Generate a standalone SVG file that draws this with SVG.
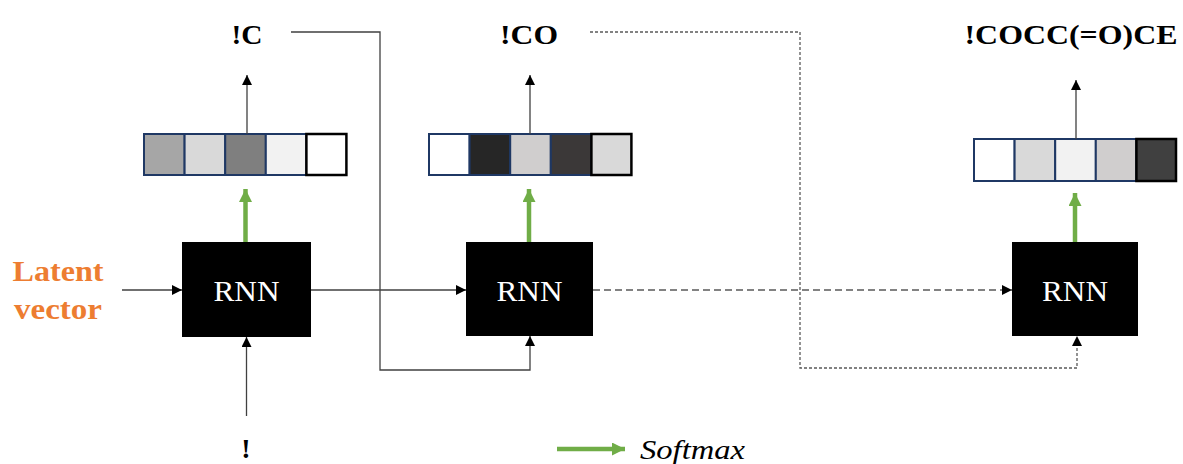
<svg xmlns="http://www.w3.org/2000/svg" width="1183" height="464" viewBox="0 0 1183 464">
  <defs>
    <marker id="ah" viewBox="0 0 10 10" refX="10" refY="5" markerWidth="10" markerHeight="10" markerUnits="userSpaceOnUse" orient="auto">
      <path d="M0,0 L10,5 L0,10 z" fill="#000"/>
    </marker>
    <marker id="gh" viewBox="0 0 10 10" refX="10" refY="5" markerWidth="13" markerHeight="13" markerUnits="userSpaceOnUse" orient="auto">
      <path d="M0,0 L10,5 L0,10 z" fill="#70ad47"/>
    </marker>
    <style>
      .rnn { fill: #000; }
      .rnn-t { font-family: "Liberation Serif", "DejaVu Serif", serif; font-size: 29px; fill: #fff; text-anchor: middle; }
      .cell { stroke: #1f3864; stroke-width: 2; }
      .cell-k { stroke: #000; stroke-width: 2.5; }
      .tok { font-family: "Liberation Serif", "DejaVu Serif", serif; font-weight: bold; font-size: 28px; fill: #000; text-anchor: middle; }
      .latent { font-family: "Liberation Serif", "DejaVu Serif", serif; font-weight: bold; font-size: 29px; fill: #ed7d31; text-anchor: middle; }
      .legend-t { font-family: "Liberation Serif", "DejaVu Serif", serif; font-style: italic; font-size: 28px; fill: #000; }
      .wire { fill: none; stroke: #404040; stroke-width: 1.3; }
      .dash { fill: none; stroke: #595959; stroke-width: 1.3; stroke-dasharray: 7 4; }
      .dot { fill: none; stroke: #595959; stroke-width: 1.3; stroke-dasharray: 3 2; }
      .green { stroke: #70ad47; stroke-width: 4.5; fill: none; }
    </style>
  </defs>

  <!-- decoder step 1 -->
  <g id="rnn1">
    <rect class="rnn" x="182" y="242" width="129" height="95"/>
    <text class="rnn-t" x="246.5" y="301" textLength="66" lengthAdjust="spacingAndGlyphs">RNN</text>
  </g>
  <g id="out1">
    <rect class="cell" x="144" y="134" width="40.6" height="41" fill="#a6a6a6"/>
    <rect class="cell" x="184.6" y="134" width="40.6" height="41" fill="#d9d9d9"/>
    <rect class="cell" x="225.2" y="134" width="40.6" height="41" fill="#7f7f7f"/>
    <rect class="cell" x="265.8" y="134" width="40.6" height="41" fill="#f2f2f2"/>
    <rect class="cell-k" x="306.4" y="134" width="40" height="41" fill="#ffffff"/>
  </g>
  <g id="tok1"><text class="tok" x="247" y="44" textLength="31" lengthAdjust="spacingAndGlyphs">!C</text></g>

  <!-- decoder step 2 -->
  <g id="rnn2">
    <rect class="rnn" x="466" y="242" width="127" height="94"/>
    <text class="rnn-t" x="529.5" y="301" textLength="66" lengthAdjust="spacingAndGlyphs">RNN</text>
  </g>
  <g id="out2">
    <rect class="cell" x="429" y="134" width="40.6" height="41" fill="#ffffff"/>
    <rect class="cell" x="469.6" y="134" width="40.6" height="41" fill="#262626"/>
    <rect class="cell" x="510.2" y="134" width="40.6" height="41" fill="#d0cece"/>
    <rect class="cell" x="550.8" y="134" width="40.6" height="41" fill="#3b3838"/>
    <rect class="cell-k" x="591.4" y="134" width="40" height="41" fill="#d9d9d9"/>
  </g>
  <g id="tok2"><text class="tok" x="529" y="44" textLength="58" lengthAdjust="spacingAndGlyphs">!CO</text></g>

  <!-- decoder step n -->
  <g id="rnn3">
    <rect class="rnn" x="1012" y="242" width="126" height="94"/>
    <text class="rnn-t" x="1075" y="301" textLength="66" lengthAdjust="spacingAndGlyphs">RNN</text>
  </g>
  <g id="out3">
    <rect class="cell" x="974" y="139" width="40.6" height="42" fill="#ffffff"/>
    <rect class="cell" x="1014.6" y="139" width="40.6" height="42" fill="#d9d9d9"/>
    <rect class="cell" x="1055.2" y="139" width="40.6" height="42" fill="#f2f2f2"/>
    <rect class="cell" x="1095.8" y="139" width="40.6" height="42" fill="#d0cece"/>
    <rect class="cell-k" x="1136.4" y="139" width="39.6" height="42" fill="#404040"/>
  </g>
  <g id="tok3"><text class="tok" x="1071" y="44" textLength="213" lengthAdjust="spacingAndGlyphs">!COCC(=O)CE</text></g>

  <!-- inputs -->
  <g id="latent">
    <text class="latent" x="58" y="281" textLength="91" lengthAdjust="spacingAndGlyphs">Latent</text>
    <text class="latent" x="58" y="319" textLength="88" lengthAdjust="spacingAndGlyphs">vector</text>
  </g>
  <g id="start"><text class="tok" x="246" y="458">!</text></g>

  <!-- legend -->
  <g id="legend">
    <line class="green" x1="557" y1="449" x2="625" y2="449" marker-end="url(#gh)"/>
    <text class="legend-t" x="640" y="459" textLength="105" lengthAdjust="spacingAndGlyphs">Softmax</text>
  </g>

  <g id="connectors">
    <!-- softmax outputs -->
    <line class="green" x1="245.5" y1="242" x2="245.5" y2="189" marker-end="url(#gh)"/>
    <line class="green" x1="529" y1="242" x2="529" y2="189" marker-end="url(#gh)"/>
    <line class="green" x1="1075" y1="242" x2="1075" y2="193" marker-end="url(#gh)"/>
    <!-- sampled tokens -->
    <line class="wire" x1="247" y1="134" x2="247" y2="75" marker-end="url(#ah)"/>
    <line class="wire" x1="530" y1="134" x2="530" y2="75" marker-end="url(#ah)"/>
    <line class="wire" x1="1076" y1="139" x2="1076" y2="80" marker-end="url(#ah)"/>
    <!-- latent vector and start token -->
    <line class="wire" x1="122" y1="290" x2="182" y2="290" marker-end="url(#ah)"/>
    <line class="wire" x1="246.5" y1="416" x2="246.5" y2="337" marker-end="url(#ah)"/>
    <!-- hidden state -->
    <line class="wire" x1="311" y1="290" x2="466" y2="290" marker-end="url(#ah)"/>
    <line class="dash" x1="593" y1="290" x2="1012" y2="290" marker-end="url(#ah)"/>
    <!-- token feedback -->
    <path class="wire" d="M291,32 H380 V370 H530 V336" marker-end="url(#ah)"/>
    <path class="dot" d="M590,32 H800 V368 H1077 V336" marker-end="url(#ah)"/>
  </g>
</svg>
